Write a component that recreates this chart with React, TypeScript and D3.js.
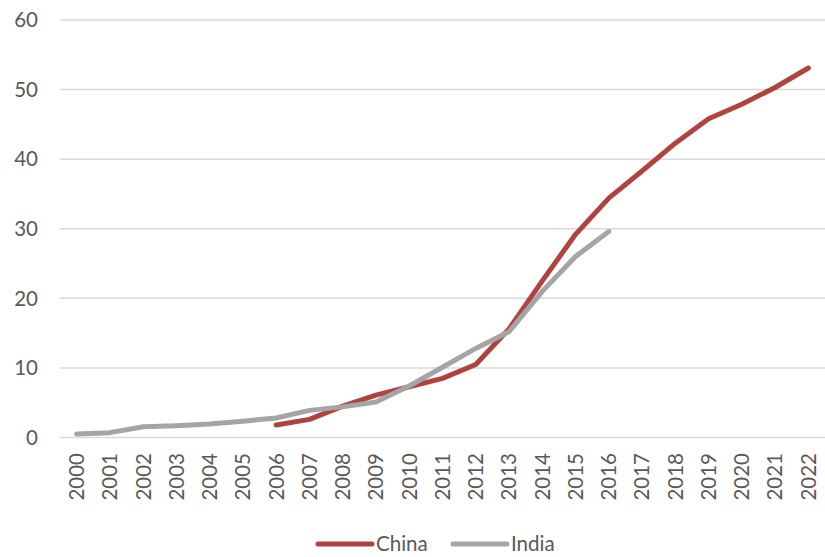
import React from "react";
import * as d3 from "d3";

const years: string[] = d3.range(2000, 2023).map(String);
const chinaYears: string[] = d3.range(2006, 2023).map(String);
const chinaValues: number[] = [1.8, 2.6, 4.5, 6.1, 7.3, 8.5, 10.5, 15.6, 22.5, 29.2, 34.4, 38.3, 42.3, 45.8, 47.9, 50.3, 53.1];
const indiaYears: string[] = d3.range(2000, 2017).map(String);
const indiaValues: number[] = [0.5, 0.7, 1.55, 1.7, 1.95, 2.35, 2.8, 3.9, 4.4, 5.1, 7.4, 10.1, 12.8, 15.2, 21.0, 26.0, 29.6];
const yTicks: number[] = [0, 10, 20, 30, 40, 50, 60];
const seriesNames: string[] = ["China", "India"];
const seriesColors: string[] = ["#B0433F", "#A5A5A5"];

const W = 825;
const H = 557;
const M = { left: 60, right: 825, top: 20, bottom: 437.5 };
const FONT = "Lato, 'Open Sans', sans-serif";
const FS = 20.5;

export default function App() {
  const x = d3.scaleBand<string>().domain(years).range([M.left, M.right]);
  const y = d3.scaleLinear().domain([0, 60]).range([M.bottom, M.top]);
  const cx = (yr: string) => (x(yr) as number) + x.bandwidth() / 2;

  const line = d3
    .line<[string, number]>()
    .x((d) => cx(d[0]))
    .y((d) => y(d[1]));

  const china = chinaYears.map((yr, i) => [yr, chinaValues[i]] as [string, number]);
  const india = indiaYears.map((yr, i) => [yr, indiaValues[i]] as [string, number]);

  const legendItems = [
    { name: seriesNames[0], color: seriesColors[0], x: 318 },
    { name: seriesNames[1], color: seriesColors[1], x: 453 },
  ];

  return (
    <svg
      width={W}
      height={H}
      style={{ position: "absolute", left: 0, top: 0, background: "#fff" }}
      fontFamily={FONT}
    >
      {yTicks.map((t) => (
        <g key={t}>
          <line x1={M.left} x2={M.right} y1={y(t)} y2={y(t)} stroke="#D9D9D9" strokeWidth={1.5} />
          <text x={38} y={y(t)} dy="0.35em" textAnchor="end" fontSize={FS} fill="#595959">
            {t}
          </text>
        </g>
      ))}
      {years.map((yr) => (
        <text
          key={yr}
          transform={`translate(${cx(yr)},${453}) rotate(-90)`}
          dy="0.36em"
          textAnchor="end"
          fontSize={FS}
          fill="#595959"
        >
          {yr}
        </text>
      ))}
      <path d={line(china) || ""} fill="none" stroke={seriesColors[0]} strokeWidth={5} strokeLinecap="round" strokeLinejoin="round" />
      <path d={line(india) || ""} fill="none" stroke={seriesColors[1]} strokeWidth={5} strokeLinecap="round" strokeLinejoin="round" />
      {legendItems.map((it) => (
        <g key={it.name}>
          <line x1={it.x} x2={it.x + 54} y1={544} y2={544} stroke={it.color} strokeWidth={5} strokeLinecap="round" />
          <text x={it.x + 58} y={544} dy="0.36em" fontSize={FS} fill="#595959">
            {it.name}
          </text>
        </g>
      ))}
    </svg>
  );
}
